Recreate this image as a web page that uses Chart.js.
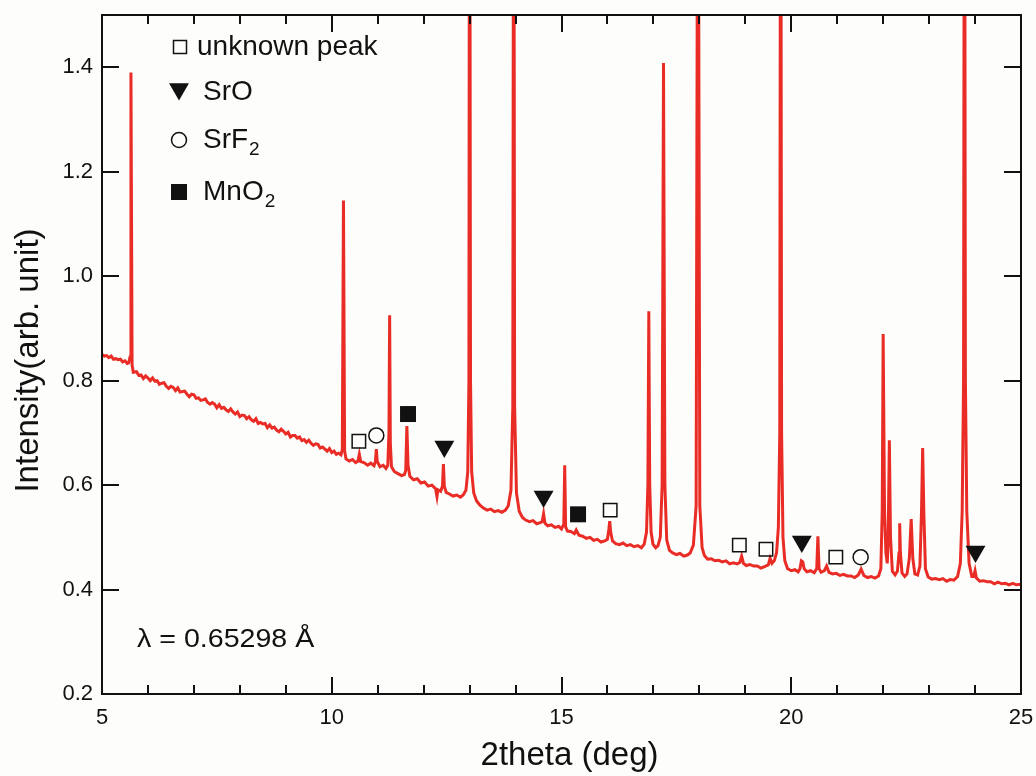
<!DOCTYPE html>
<html>
<head>
<meta charset="utf-8">
<title>XRD pattern</title>
<script src="https://cdn.jsdelivr.net/npm/chart.js@4.4.1/dist/chart.umd.min.js"></script>
<style>
  html, body { margin: 0; padding: 0; background: #fdfdfb; }
  #xrd { display: block; }
</style>
</head>
<body>
<canvas id="xrd" width="1036" height="776"></canvas>
<script>
// axis ticks
const twoThetaTicks = [5, 10, 15, 20, 25];
const intensityTicks = [0.2, 0.4, 0.6, 0.8, 1.0, 1.2, 1.4];

// measured pattern, [2theta, intensity]
const pattern = [
  [5.00, 0.850], [5.05, 0.847], [5.10, 0.848], [5.15, 0.844], [5.20, 0.847], [5.25, 0.841],
  [5.30, 0.842], [5.35, 0.840], [5.40, 0.841], [5.45, 0.836], [5.50, 0.838], [5.55, 0.833],
  [5.58, 0.834], [5.61, 0.845], [5.63, 1.390], [5.655, 0.830], [5.68, 0.816], [5.75, 0.817],
  [5.80, 0.810], [5.85, 0.811], [5.90, 0.804], [5.95, 0.809], [6.00, 0.805], [6.05, 0.800],
  [6.10, 0.805], [6.15, 0.799], [6.20, 0.800], [6.25, 0.793], [6.30, 0.795], [6.35, 0.796],
  [6.40, 0.789], [6.45, 0.785], [6.50, 0.789], [6.55, 0.787], [6.60, 0.781], [6.65, 0.786],
  [6.70, 0.778], [6.75, 0.779], [6.80, 0.780], [6.85, 0.774], [6.90, 0.769], [6.95, 0.774],
  [7.00, 0.773], [7.05, 0.766], [7.10, 0.767], [7.15, 0.762], [7.20, 0.763], [7.25, 0.765],
  [7.30, 0.758], [7.35, 0.755], [7.40, 0.758], [7.45, 0.755], [7.50, 0.748], [7.55, 0.754],
  [7.60, 0.747], [7.65, 0.749], [7.70, 0.744], [7.75, 0.741], [7.80, 0.746], [7.85, 0.740],
  [7.90, 0.736], [7.95, 0.740], [8.00, 0.731], [8.05, 0.734], [8.10, 0.733], [8.15, 0.727],
  [8.20, 0.731], [8.25, 0.725], [8.30, 0.722], [8.35, 0.727], [8.40, 0.718], [8.45, 0.720],
  [8.50, 0.717], [8.55, 0.718], [8.60, 0.710], [8.65, 0.715], [8.70, 0.709], [8.75, 0.711],
  [8.80, 0.705], [8.85, 0.702], [8.90, 0.707], [8.95, 0.703], [9.00, 0.698], [9.05, 0.701],
  [9.10, 0.692], [9.15, 0.695], [9.20, 0.695], [9.25, 0.690], [9.30, 0.692], [9.35, 0.685],
  [9.40, 0.687], [9.45, 0.682], [9.50, 0.686], [9.55, 0.680], [9.60, 0.676], [9.65, 0.679],
  [9.70, 0.678], [9.75, 0.671], [9.80, 0.673], [9.85, 0.669], [9.90, 0.665], [9.95, 0.670],
  [10.00, 0.662], [10.05, 0.665], [10.10, 0.659], [10.15, 0.661], [10.20, 0.658], [10.23, 0.668],
  [10.255, 1.145], [10.28, 0.665], [10.31, 0.650], [10.38, 0.646], [10.45, 0.649], [10.52, 0.643],
  [10.57, 0.646], [10.60, 0.659], [10.63, 0.645], [10.70, 0.643], [10.78, 0.638], [10.85, 0.642],
  [10.92, 0.637], [10.95, 0.645], [10.97, 0.669], [10.99, 0.645], [11.05, 0.635], [11.12, 0.638],
  [11.18, 0.632], [11.22, 0.638], [11.245, 0.700], [11.26, 0.925], [11.275, 0.680], [11.30, 0.635],
  [11.36, 0.626], [11.44, 0.622], [11.52, 0.618], [11.58, 0.620], [11.61, 0.628], [11.635, 0.713],
  [11.66, 0.638], [11.70, 0.617], [11.78, 0.610], [11.86, 0.612], [11.94, 0.604], [12.02, 0.606],
  [12.10, 0.598], [12.18, 0.600], [12.26, 0.593], [12.29, 0.578], [12.31, 0.591], [12.37, 0.588],
  [12.41, 0.598], [12.43, 0.640], [12.45, 0.598], [12.49, 0.586], [12.56, 0.583], [12.64, 0.579],
  [12.72, 0.581], [12.80, 0.577], [12.86, 0.581], [12.92, 0.590], [12.96, 0.625], [12.985, 0.800],
  [13.00, 2.200], [13.02, 0.800], [13.045, 0.625], [13.09, 0.585], [13.15, 0.570], [13.22, 0.562],
  [13.30, 0.556], [13.38, 0.552], [13.46, 0.554], [13.54, 0.549], [13.62, 0.551], [13.70, 0.548],
  [13.78, 0.552], [13.84, 0.560], [13.90, 0.590], [13.94, 0.750], [13.96, 2.200], [13.98, 0.750],
  [14.02, 0.585], [14.08, 0.550], [14.15, 0.538], [14.22, 0.533], [14.30, 0.530], [14.38, 0.532],
  [14.46, 0.526], [14.54, 0.528], [14.58, 0.530], [14.61, 0.545], [14.64, 0.527], [14.70, 0.522],
  [14.78, 0.524], [14.86, 0.519], [14.94, 0.521], [15.00, 0.516], [15.05, 0.525], [15.07, 0.638],
  [15.09, 0.520], [15.13, 0.512], [15.20, 0.511], [15.28, 0.507], [15.32, 0.514], [15.38, 0.504],
  [15.46, 0.502], [15.54, 0.498], [15.62, 0.500], [15.70, 0.494], [15.78, 0.496], [15.86, 0.491],
  [15.94, 0.493], [16.00, 0.496], [16.03, 0.515], [16.05, 0.531], [16.07, 0.510], [16.11, 0.493],
  [16.18, 0.488], [16.26, 0.486], [16.34, 0.489], [16.42, 0.484], [16.50, 0.486], [16.58, 0.482],
  [16.66, 0.484], [16.74, 0.480], [16.80, 0.487], [16.85, 0.510], [16.88, 0.600], [16.90, 0.933],
  [16.92, 0.600], [16.95, 0.510], [16.99, 0.487], [17.05, 0.480], [17.10, 0.484], [17.15, 0.500],
  [17.19, 0.600], [17.22, 1.408], [17.25, 0.600], [17.29, 0.495], [17.35, 0.475], [17.42, 0.470],
  [17.50, 0.467], [17.58, 0.469], [17.66, 0.464], [17.74, 0.466], [17.80, 0.470], [17.87, 0.485],
  [17.93, 0.560], [17.97, 2.200], [18.01, 0.560], [18.06, 0.480], [18.11, 0.465], [18.18, 0.458],
  [18.26, 0.459], [18.34, 0.455], [18.42, 0.456], [18.50, 0.453], [18.58, 0.455], [18.66, 0.449],
  [18.74, 0.451], [18.82, 0.449], [18.88, 0.452], [18.92, 0.464], [18.96, 0.450], [19.02, 0.446],
  [19.10, 0.448], [19.18, 0.445], [19.26, 0.445], [19.34, 0.441], [19.42, 0.444], [19.50, 0.447],
  [19.54, 0.460], [19.58, 0.450], [19.63, 0.455], [19.68, 0.470], [19.72, 0.520], [19.75, 0.700],
  [19.77, 2.200], [19.79, 0.700], [19.82, 0.500], [19.86, 0.455], [19.92, 0.440], [20.00, 0.436],
  [20.08, 0.438], [20.15, 0.434], [20.19, 0.440], [20.22, 0.455], [20.25, 0.453], [20.28, 0.440],
  [20.34, 0.434], [20.42, 0.436], [20.50, 0.432], [20.555, 0.440], [20.58, 0.502], [20.605, 0.440],
  [20.65, 0.433], [20.72, 0.436], [20.77, 0.445], [20.82, 0.433], [20.90, 0.430], [20.98, 0.431],
  [21.06, 0.427], [21.14, 0.429], [21.22, 0.426], [21.30, 0.426], [21.38, 0.423], [21.46, 0.428],
  [21.52, 0.439], [21.58, 0.427], [21.66, 0.423], [21.74, 0.425], [21.82, 0.422], [21.90, 0.426],
  [21.95, 0.440], [21.98, 0.550], [22.00, 0.889], [22.03, 0.550], [22.06, 0.470], [22.09, 0.450],
  [22.11, 0.500], [22.135, 0.686], [22.16, 0.500], [22.20, 0.435], [22.26, 0.428], [22.31, 0.435],
  [22.345, 0.470], [22.36, 0.527], [22.375, 0.470], [22.41, 0.432], [22.47, 0.425], [22.52, 0.430],
  [22.57, 0.460], [22.61, 0.535], [22.645, 0.460], [22.69, 0.430], [22.75, 0.428], [22.80, 0.445],
  [22.835, 0.550], [22.86, 0.671], [22.885, 0.550], [22.92, 0.440], [22.98, 0.424], [23.06, 0.420],
  [23.14, 0.421], [23.22, 0.419], [23.30, 0.421], [23.38, 0.416], [23.46, 0.419], [23.54, 0.418],
  [23.62, 0.425], [23.68, 0.450], [23.72, 0.550], [23.75, 0.800], [23.77, 2.200], [23.79, 0.800],
  [23.82, 0.550], [23.87, 0.450], [23.93, 0.425], [23.97, 0.425], [24.00, 0.436], [24.03, 0.422],
  [24.10, 0.416], [24.18, 0.417], [24.26, 0.415], [24.34, 0.415], [24.42, 0.411], [24.50, 0.414],
  [24.58, 0.411], [24.66, 0.412], [24.74, 0.409], [24.82, 0.412], [24.90, 0.409], [25.00, 0.410]
];

// phase markers, [2theta, intensity]
const unknownPeaks = [[10.59, 0.684], [16.06, 0.552], [18.87, 0.485], [19.45, 0.477], [20.97, 0.462]];
const srOPeaks = [[12.45, 0.674], [14.61, 0.578], [20.23, 0.492], [24.01, 0.473]];
const srF2Peaks = [[10.97, 0.695], [21.51, 0.462]];
const mnO2Peaks = [[11.66, 0.736], [15.36, 0.544]];

const legendItems = [
  { kind: 'openSquare', text: 'unknown peak', sub: '' },
  { kind: 'triangle', text: 'SrO', sub: '' },
  { kind: 'circle', text: 'SrF', sub: '2' },
  { kind: 'filledSquare', text: 'MnO', sub: '2' }
];
const wavelengthNote = 'λ = 0.65298 Å';
const xTitle = '2theta (deg)';
const yTitle = 'Intensity(arb. unit)';

const FONT = "'Liberation Sans', Arial, Helvetica, sans-serif";
const INK = '#111';
const RED = 'rgb(233, 45, 38)';

const toXY = arr => arr.map(([x, y]) => ({ x, y }));

function drawMarker(ctx, kind, cx, cy) {
  ctx.save();
  ctx.lineWidth = 1.5;
  ctx.strokeStyle = INK;
  ctx.fillStyle = INK;
  ctx.beginPath();
  if (kind === 'openSquare') {
    ctx.rect(cx - 6.5, cy - 6.5, 13, 13);
    ctx.stroke();
  } else if (kind === 'filledSquare') {
    ctx.rect(cx - 8, cy - 8, 16, 16);
    ctx.fill();
  } else if (kind === 'circle') {
    ctx.arc(cx, cy, 7.5, 0, Math.PI * 2);
    ctx.stroke();
  } else {
    const r = 11.5;
    ctx.moveTo(cx, cy + r);
    ctx.lineTo(cx - r * Math.sqrt(3) / 2, cy - r / 2);
    ctx.lineTo(cx + r * Math.sqrt(3) / 2, cy - r / 2);
    ctx.closePath();
    ctx.fill();
  }
  ctx.restore();
}

// text a little wider than the font draws it
function wideText(ctx, text, x, y, sx) {
  ctx.save();
  ctx.translate(x, y);
  ctx.scale(sx, 1);
  ctx.fillText(text, 0, 0);
  ctx.restore();
}

// box, inward ticks, axis titles, legend and note
const framePlugin = {
  id: 'frame',
  afterDatasetsDraw(chart) {
    const { ctx, chartArea: a, scales: { x, y } } = chart;
    ctx.save();
    ctx.strokeStyle = INK;
    ctx.lineWidth = 2;
    ctx.beginPath();
    for (let v = x.min; v <= x.max; v += 1) {
      const px = Math.round(x.getPixelForValue(v));
      const len = twoThetaTicks.includes(v) ? 17 : 9;
      ctx.moveTo(px, a.bottom); ctx.lineTo(px, a.bottom - len);
      ctx.moveTo(px, a.top); ctx.lineTo(px, a.top + len);
    }
    intensityTicks.forEach(v => {
      const py = Math.round(y.getPixelForValue(v));
      ctx.moveTo(a.left, py); ctx.lineTo(a.left + 17, py);
      ctx.moveTo(a.right, py); ctx.lineTo(a.right - 17, py);
    });
    ctx.stroke();
    ctx.strokeRect(a.left, a.top, a.right - a.left, a.bottom - a.top);

    ctx.fillStyle = INK;
    ctx.textBaseline = 'alphabetic';

    // axis titles
    ctx.font = `33px ${FONT}`;
    ctx.textAlign = 'center';
    ctx.fillText(xTitle, (a.left + a.right) / 2 + 8, a.bottom + 71);
    ctx.save();
    ctx.translate(a.left - 64, (a.top + a.bottom) / 2 + 6);
    ctx.rotate(-Math.PI / 2);
    ctx.fillText(yTitle, 0, 0);
    ctx.restore();
    ctx.textAlign = 'left';

    // legend
    const lx = a.left + 77;
    const rows = [32, 74, 125, 177];
    legendItems.forEach((item, i) => {
      const cy = a.top + rows[i];
      drawMarker(ctx, item.kind, lx + (item.kind === 'openSquare' ? 1 : 0), cy);
      const tx = item.kind === 'openSquare' ? lx + 18 : lx + 24;
      const base = item.kind === 'triangle' ? cy + 11 : cy + 8;
      ctx.font = `28px ${FONT}`;
      ctx.fillText(item.text, tx, base);
      if (item.sub) {
        const w = ctx.measureText(item.text).width;
        ctx.font = `19px ${FONT}`;
        ctx.fillText(item.sub, tx + w + 1, base + 7);
      }
    });

    ctx.font = `26px ${FONT}`;
    wideText(ctx, wavelengthNote, a.left + 35, a.top + 632, 1.1);
    ctx.restore();
  }
};

const markerSet = (label, data, style) => Object.assign({
  label,
  data: toXY(data),
  showLine: false,
  order: 0,
  pointBorderColor: INK,
  pointBorderWidth: 1.5,
  pointBackgroundColor: 'rgba(0,0,0,0)'
}, style);

new Chart(document.getElementById('xrd'), {
  type: 'scatter',
  data: {
    datasets: [
      markerSet('unknown peak', unknownPeaks, { pointStyle: 'rect', pointRadius: 9.5 }),
      markerSet('SrO', srOPeaks, { pointStyle: 'triangle', pointRotation: 180, pointRadius: 11.5, pointBorderWidth: 0, pointBackgroundColor: INK }),
      markerSet('SrF2', srF2Peaks, { pointStyle: 'circle', pointRadius: 7.5 }),
      markerSet('MnO2', mnO2Peaks, { pointStyle: 'rect', pointRadius: 11.3, pointBorderWidth: 0, pointBackgroundColor: INK }),
      {
        label: 'pattern',
        data: toXY(pattern),
        showLine: true,
        order: 1,
        borderColor: RED,
        borderWidth: 3,
        pointRadius: 0,
        tension: 0
      }
    ]
  },
  options: {
    responsive: false,
    animation: false,
    devicePixelRatio: 1,
    layout: { padding: { top: 15, right: 15, left: 0, bottom: 0 } },
    plugins: { legend: { display: false }, tooltip: { enabled: false } },
    scales: {
      x: {
        type: 'linear',
        min: 5,
        max: 25,
        afterBuildTicks: s => { s.ticks = twoThetaTicks.map(v => ({ value: v })); },
        afterFit: s => { s.height = 82; s.paddingLeft = 0; s.paddingRight = 0; },
        grid: { display: false, drawTicks: false },
        border: { display: false },
        ticks: { padding: 11, color: INK, font: { size: 22, family: FONT }, callback: v => String(v) }
      },
      y: {
        type: 'linear',
        min: 0.2,
        max: 1.5,
        afterBuildTicks: s => { s.ticks = intensityTicks.map(v => ({ value: v })); },
        afterFit: s => { s.width = 102; s.paddingTop = 0; s.paddingBottom = 0; },
        grid: { display: false, drawTicks: false },
        border: { display: false },
        ticks: { padding: 9, color: INK, font: { size: 22, family: FONT }, callback: v => v.toFixed(1) }
      }
    }
  },
  plugins: [framePlugin]
});
</script>
</body>
</html>
